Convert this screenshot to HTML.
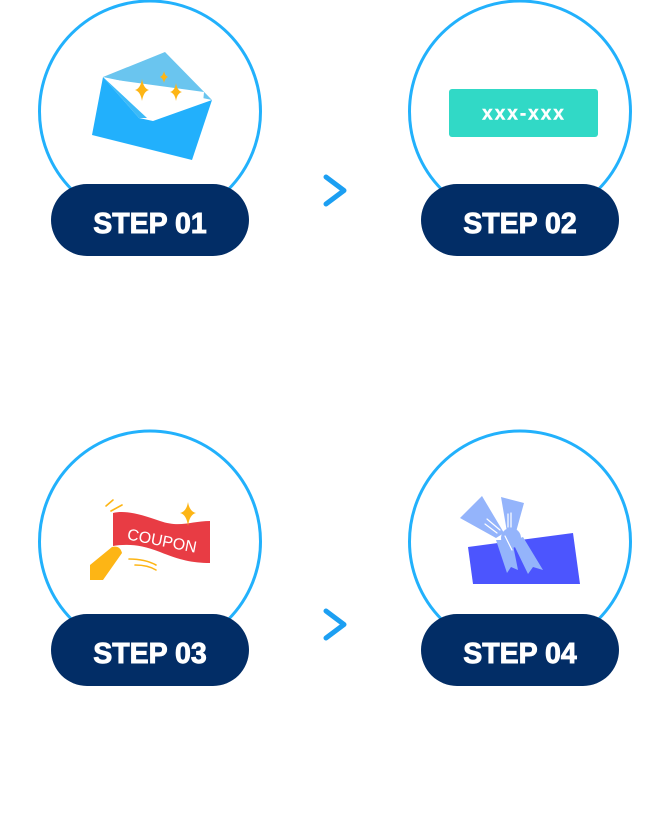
<!DOCTYPE html>
<html>
<head>
<meta charset="utf-8">
<style>
html,body{margin:0;padding:0;background:#fff;}
body{width:670px;height:820px;overflow:hidden;}
svg{display:block;}
</style>
</head>
<body>
<svg width="670" height="820" viewBox="0 0 670 820" xmlns="http://www.w3.org/2000/svg">
  <!-- circles -->
  <g fill="none" stroke="#22b1fc" stroke-width="3">
    <circle cx="150" cy="111.5" r="110.5"/>
    <circle cx="520" cy="111.5" r="110.5"/>
    <circle cx="150" cy="541.5" r="110.5"/>
    <circle cx="520" cy="541.5" r="110.5"/>
  </g>

  <!-- arrows -->
  <g fill="none" stroke="#1c9ff2" stroke-width="5" stroke-linecap="round" stroke-linejoin="round">
    <polyline points="326,177 344,190.5 326,204"/>
    <polyline points="326,611 344,624.5 326,638"/>
  </g>

  <!-- STEP 01 envelope -->
  <polygon points="165,52 103,77 212,100" fill="#6ac5ef"/>
  <polygon points="109,79 204,92 203,103 153,121 147,117 139,119" fill="#ffffff"/>
  <polygon points="103,77 92,135 192,160 212,100 153,121 139,118" fill="#22b0fc"/>
  <polygon points="103,77 139,118 147,118" fill="#3dbaf7"/>
  <!-- stars -->
  <path d="M142,79 Q143.5,88.5 149,90 Q143.5,91.5 142,101 Q140.5,91.5 135,90 Q140.5,88.5 142,79Z" fill="#fdb515"/>
  <path d="M176,83 Q177.2,90.8 182,92 Q177.2,93.2 176,101 Q174.8,93.2 170,92 Q174.8,90.8 176,83Z" fill="#fdb515"/>
  <path d="M164,71 Q164.8,75.6 168,77 Q164.8,78.4 164,83 Q163.2,78.4 160,77 Q163.2,75.6 164,71Z" fill="#fdb515"/>

  <!-- STEP 02 code box -->
  <rect x="449" y="89" width="149" height="48" rx="3" fill="#31d9c6"/>
  <text x="524" y="119.5" text-anchor="middle" font-family="Liberation Sans, sans-serif" font-weight="bold" font-size="19" letter-spacing="2" fill="#ffffff" stroke="#ffffff" stroke-width="0.4">xxx-xxx</text>

  <!-- STEP 03 coupon -->
  <path d="M113,513 C125,510 140,514 160,521 C180,528 192,521 210,521 L210,563 C192,563 180,560 160,552 C140,544 125,544 113,546 Z" fill="#e83c44"/>
  <text x="0" y="0" transform="translate(161,546) rotate(11)" text-anchor="middle" font-family="Liberation Sans, sans-serif" font-size="16" fill="#ffffff">COUPON</text>
  <path d="M188,502 Q189.5,511.5 196,513 Q189.5,514.5 188,526 Q186.5,514.5 180,513 Q186.5,511.5 188,502Z" fill="#fdb515"/>
  <g fill="none" stroke="#fdb515" stroke-width="1.6" stroke-linecap="round">
    <line x1="106" y1="506" x2="113" y2="500"/>
    <line x1="111" y1="511" x2="122" y2="505"/>
    <path d="M129,559 Q145,559 156,565"/>
    <path d="M135,565 Q148,565 156,570"/>
  </g>
  <path d="M90,565 L112,547 Q120,545 122,553 L103,580 L90,580 Z" fill="#fdb515"/>

  <!-- STEP 04 gift -->
  <polygon points="468,547 573,533 580,584 473,584" fill="#4c55fe"/>
  <polygon points="460,518 482,496 504,533 496,538" fill="#94b4fb"/>
  <polygon points="501,497 524,503 516,532 507,532" fill="#94b4fb"/>
  <polygon points="496,540 507,573 511,567 518,570 512,540" fill="#94b4fb"/>
  <polygon points="512,541 528,574 533,567 543,570 523,537" fill="#94b4fb"/>
  <circle cx="511" cy="538" r="10" fill="#94b4fb"/>
  <g stroke="#ffffff" stroke-width="1.2" stroke-linecap="round">
    <line x1="487" y1="519" x2="500" y2="530"/>
    <line x1="485" y1="524" x2="497" y2="533"/>
    <line x1="508" y1="514" x2="508" y2="527"/>
    <line x1="511" y1="513" x2="511" y2="527"/>
    <line x1="505" y1="536" x2="512" y2="550"/>
  </g>

  <!-- pills -->
  <g fill="#022d66">
    <rect x="51" y="184" width="198" height="72" rx="36"/>
    <rect x="421" y="184" width="198" height="72" rx="36"/>
    <rect x="51" y="614" width="198" height="72" rx="36"/>
    <rect x="421" y="614" width="198" height="72" rx="36"/>
  </g>
  <g fill="#ffffff" stroke="#ffffff" stroke-width="0.9" font-family="Liberation Sans, sans-serif" font-weight="bold" font-size="28.5" text-anchor="middle">
    <text x="150" y="233">STEP 01</text>
    <text x="520" y="233">STEP 02</text>
    <text x="150" y="663">STEP 03</text>
    <text x="520" y="663">STEP 04</text>
  </g>
</svg>
</body>
</html>
